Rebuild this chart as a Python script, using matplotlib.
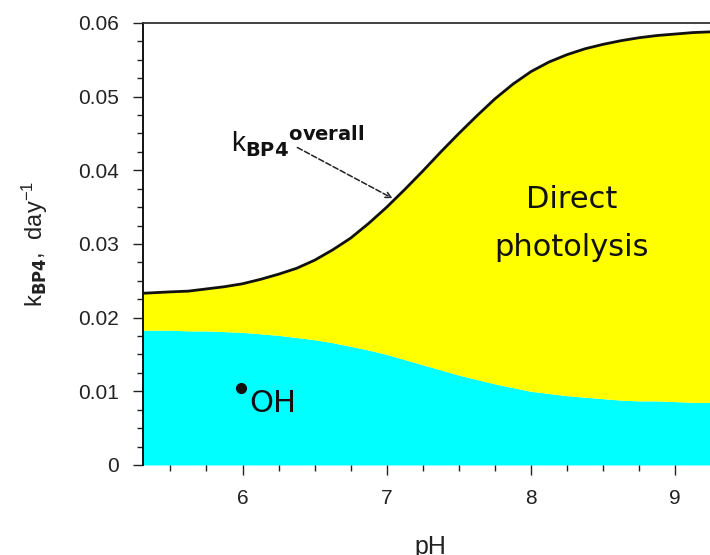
import numpy as np
import matplotlib.pyplot as plt
from matplotlib.ticker import MultipleLocator

# pH grid and rate constants (day^-1)
ph = [5.3, 5.5, 5.625, 5.75, 5.875, 6.0, 6.125, 6.25, 6.375, 6.5, 6.625,
      6.75, 6.875, 7.0, 7.125, 7.25, 7.375, 7.5, 7.625, 7.75, 7.875, 8.0,
      8.125, 8.25, 8.375, 8.5, 8.625, 8.75, 8.875, 9.0, 9.125, 9.25, 9.375]
k_overall = [0.0233, 0.0235, 0.0236, 0.0239, 0.0242, 0.0246, 0.0252, 0.0259,
             0.0267, 0.0278, 0.0292, 0.0308, 0.0328, 0.0350, 0.0374, 0.0399,
             0.0425, 0.0450, 0.0474, 0.0497, 0.0517, 0.0534, 0.0547, 0.0557,
             0.0565, 0.0571, 0.0576, 0.0580, 0.0583, 0.0585, 0.0587, 0.0588,
             0.0589]
k_oh = [0.0183, 0.0183, 0.0182, 0.0182, 0.0181, 0.0180, 0.0178, 0.0176,
        0.0173, 0.0170, 0.0166, 0.0161, 0.0156, 0.0150, 0.0143, 0.0136,
        0.0129, 0.0122, 0.0116, 0.0110, 0.0105, 0.0100, 0.0097, 0.0094,
        0.0092, 0.0090, 0.0088, 0.0087, 0.0087, 0.0086, 0.0085, 0.0085,
        0.0085]

plt.rcParams['font.family'] = ['Liberation Sans', 'DejaVu Sans']

fig = plt.figure(figsize=(7.1, 5.55), dpi=100)
ax = fig.add_axes([0.2014, 0.1622, 0.8085, 0.7964])

ax.fill_between(ph, 0, k_oh, color='#00ffff', lw=0, zorder=1)
ax.fill_between(ph, k_oh, k_overall, color='#ffff00', lw=0, zorder=1)
ax.plot(ph, k_overall, color='#111111', lw=2.0, zorder=3)

# labels inside the plot
ax.text(8.28, 0.0360, 'Direct', fontsize=22, ha='center', va='center',
        family='DejaVu Sans', color='#111111')
ax.text(8.28, 0.0295, 'photolysis', fontsize=22, ha='center', va='center',
        family='DejaVu Sans', color='#111111')
ax.plot([5.99], [0.0105], 'o', color='#111111', ms=7, zorder=4)
ax.text(6.045, 0.0083, 'OH', fontsize=22, ha='left', va='center',
        family='DejaVu Sans', color='#111111')
ax.text(5.92, 0.0440, r'$\mathregular{k}_{\mathbf{BP4}}{}^{\mathbf{overall}}$',
        fontsize=20, ha='left', va='center', color='#111111')
ax.annotate('', xy=(7.04, 0.0362), xytext=(6.38, 0.0431),
            arrowprops=dict(arrowstyle='->', ls='--', lw=1.1, color='#222222',
                            shrinkA=0, shrinkB=0))

ax.set_xlim(5.31, 9.29)
ax.set_ylim(0, 0.06)
ax.xaxis.set_major_locator(MultipleLocator(1))
ax.xaxis.set_minor_locator(MultipleLocator(0.25))
ax.yaxis.set_major_locator(MultipleLocator(0.01))
ax.yaxis.set_minor_locator(MultipleLocator(0.0025))
ax.set_yticks([0, 0.01, 0.02, 0.03, 0.04, 0.05, 0.06])
ax.set_yticklabels(['0', '0.01', '0.02', '0.03', '0.04', '0.05', '0.06'])

ax.tick_params(which='major', direction='out', length=7.5, width=1.0,
               labelsize=15, colors='#222222')
ax.tick_params(which='minor', direction='out', length=4.5, width=1.0,
               colors='#222222')
ax.tick_params(axis='y', which='major', pad=10)
ax.tick_params(axis='x', which='major', pad=10)

ax.spines['bottom'].set_visible(False)
ax.spines['right'].set_visible(False)
ax.spines['left'].set_linewidth(1.3)
ax.spines['top'].set_linewidth(1.3)
ax.spines['top'].set_color('#333333')

ax.set_xlabel('pH', fontsize=18, labelpad=19, color='#222222')
ax.set_ylabel(r'$\mathregular{k_{\mathbf{BP4}},\ day^{-1}}$', fontsize=17,
              labelpad=20, color='#222222')

fig.savefig('out.png', dpi=100)
